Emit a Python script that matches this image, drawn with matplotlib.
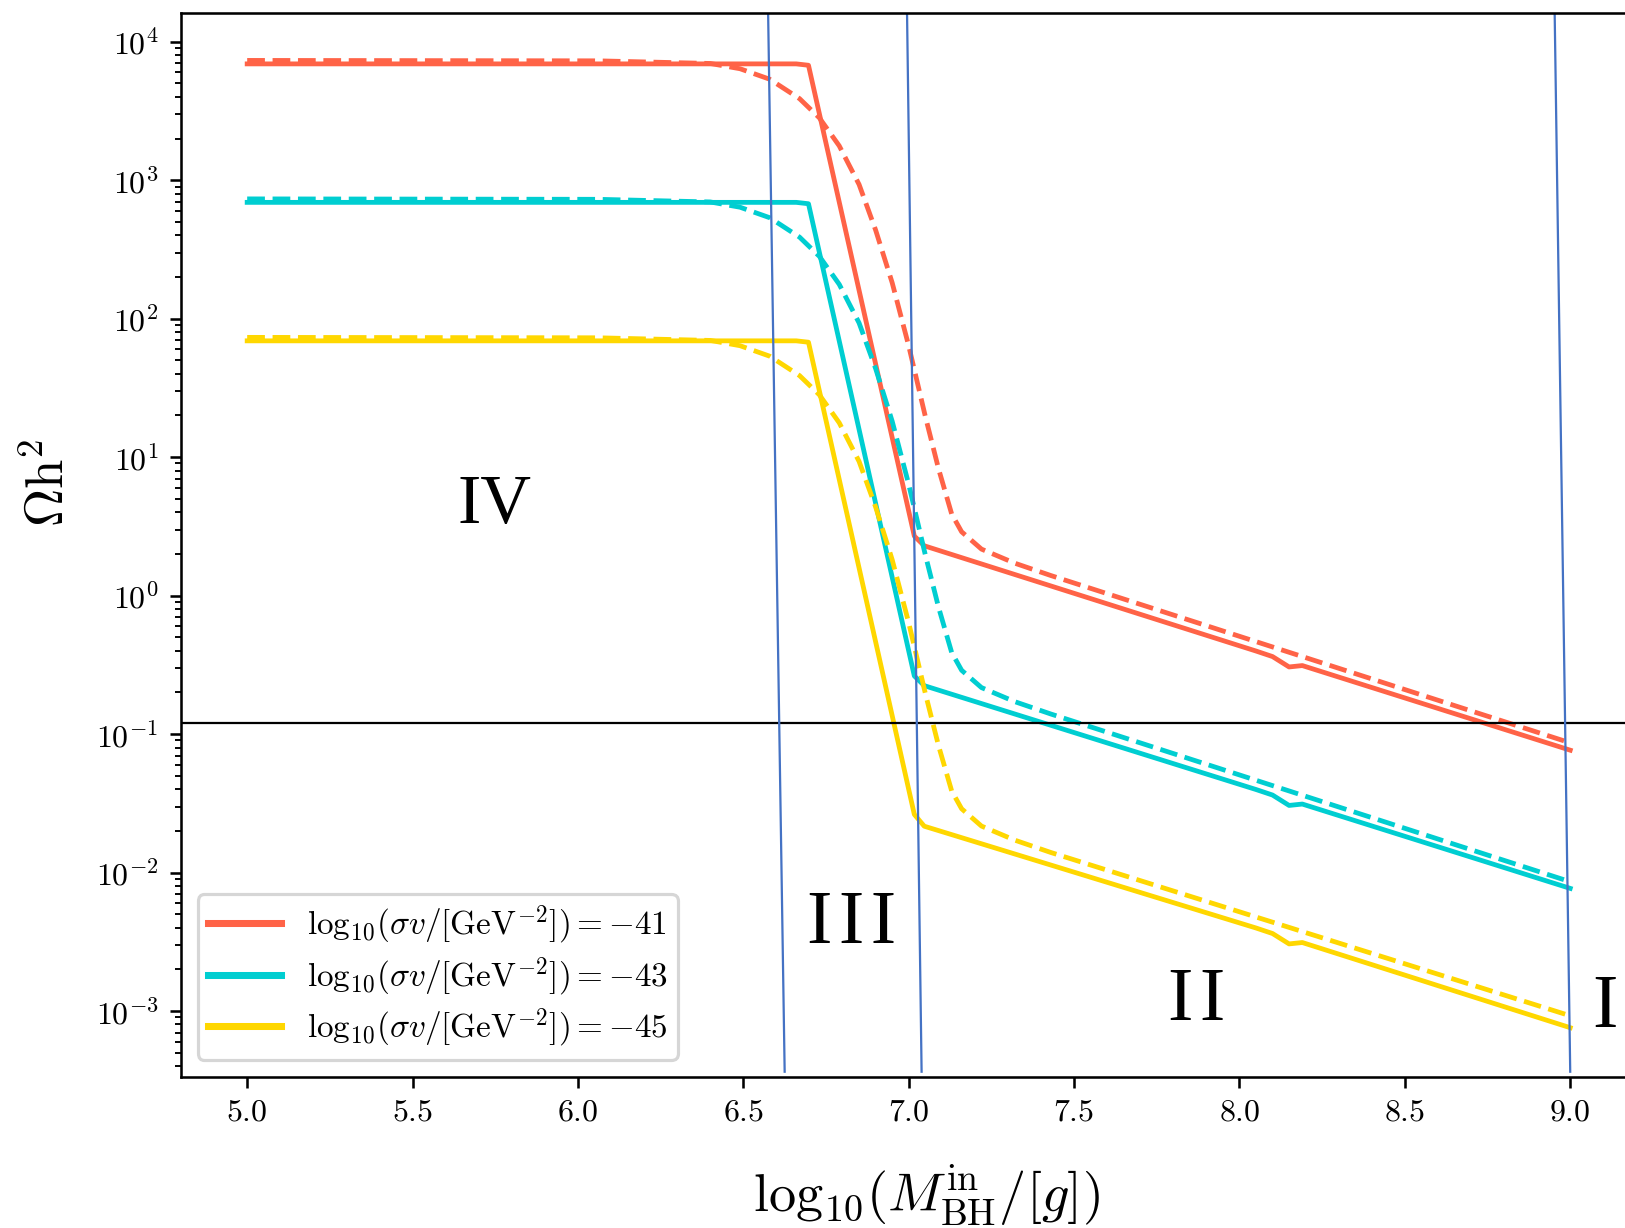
import matplotlib
matplotlib.use('Agg')
import matplotlib.pyplot as plt
import matplotlib.transforms as mtransforms
import numpy as np

plt.rcParams['mathtext.fontset'] = 'cm'
plt.rcParams['font.family'] = 'serif'
plt.rcParams['font.serif'] = ['cmr10']
plt.rcParams['axes.formatter.use_mathtext'] = True

########################### data (log10 of Omega h^2) ####################################

x_solid = [5.0, 6.66, 6.697, 7.017, 7.047, 8.05, 8.10, 8.15, 8.19, 9.0]
red_solid = [3.84, 3.84, 3.83, 0.43, 0.36, -0.40, -0.44, -0.515, -0.505, -1.116]
cyan_solid = [2.84, 2.84, 2.83, -0.58, -0.65, -1.40, -1.44, -1.515, -1.505, -2.114]
yellow_solid = [1.84, 1.84, 1.83, -1.58, -1.665, -2.40, -2.44, -2.515, -2.505, -3.12]

x_dashed = [5.0, 6.06, 6.40, 6.49, 6.58, 6.67, 6.73, 6.79, 6.85, 6.90, 6.95,
            7.00, 7.05, 7.09, 7.13, 7.16, 7.22, 7.32, 7.43, 9.0]
red_dashed = [3.865, 3.862, 3.843, 3.805, 3.729, 3.589, 3.450, 3.248, 2.969, 2.640, 2.260,
              1.804, 1.297, 0.918, 0.589, 0.461, 0.336, 0.235, 0.145, -1.063]
cyan_dashed = [2.865, 2.862, 2.843, 2.805, 2.729, 2.589, 2.450, 2.248, 1.969, 1.640, 1.260,
               0.804, 0.297, -0.082, -0.411, -0.539, -0.664, -0.765, -0.855, -2.066]
yellow_dashed = [1.865, 1.862, 1.843, 1.805, 1.729, 1.589, 1.450, 1.248, 0.969, 0.640, 0.260,
                 -0.196, -0.703, -1.082, -1.411, -1.539, -1.664, -1.765, -1.855, -3.034]

labels = [r'$\mathrm{log}_{10}(\sigma v/[\mathrm{GeV}^{-2}]) = -41$',
          r'$\mathrm{log}_{10}(\sigma v/[\mathrm{GeV}^{-2}]) = -43$',
          r'$\mathrm{log}_{10}(\sigma v/[\mathrm{GeV}^{-2}]) = -45$']
colors = ['tomato', 'darkturquoise', 'gold']

omega_obs = 0.12

# region boundaries (slightly tilted lines): x at top and bottom of the axes
bound_top = [6.575, 6.995, 8.953]
bound_bottom = [6.625, 7.039, 9.0]

region_names = ['IV', 'I\u200aI\u200aI', 'I\u200aI', 'I']
region_x = [5.748, 6.826, 7.872, 9.106]
region_y = [0.523, -2.507, -3.065, -3.113]
region_size = [22, 24, 24, 24]

########################### Plot ####################################

fig = plt.figure(figsize=(1625 / 230, 1228 / 230), dpi=230)
ax = fig.add_axes([0.1114, 0.1232, 0.8956, 0.8665])

solids = [red_solid, cyan_solid, yellow_solid]
dasheds = [red_dashed, cyan_dashed, yellow_dashed]
for s, d, c, lab in zip(solids, dasheds, colors, labels):
    ax.plot(x_solid, 10 ** np.array(s), color=c, linestyle='-', label=lab)
    ax.plot(x_dashed, 10 ** np.array(d), color=c, linestyle='--')

ax.axhline(omega_obs, color='black', lw=0.7)

trans = mtransforms.blended_transform_factory(ax.transData, ax.transAxes)
for xt, xb in zip(bound_top, bound_bottom):
    ax.plot([xt, xb], [0.999, 0.0047], transform=trans, color='#4472C4', lw=0.7)

for name, xr, yr, fs in zip(region_names, region_x, region_y, region_size):
    ax.text(xr, 10 ** yr, name, fontsize=fs, ha='center', va='baseline',
            family=['Liberation Serif', 'DejaVu Serif'])

ax.set_yscale('log')
ax.set_xlim(4.8, 9.2)
ax.set_ylim(10 ** -3.474, 10 ** 4.21)
ax.set_xticks([5.0, 5.5, 6.0, 6.5, 7.0, 7.5, 8.0, 8.5, 9.0])
ax.set_yticks([10.0 ** k for k in range(-3, 5)])

ax.set_xlabel(r'$\mathrm{log}_{10}(M_{\mathrm{BH}}^{\mathrm{in}}/[g])$', fontsize=17)
ax.set_ylabel(r'$\Omega \mathrm{h}^2$', fontsize=16.5)
ax.xaxis.set_label_coords(0.512, -0.0811)
ax.yaxis.set_label_coords(-0.0732, 0.558)

leg = ax.legend(loc='lower left', handlelength=2.2, fontsize=10.4,
                labelspacing=0.25, borderpad=0.3)
for line in leg.get_lines():
    line.set_linewidth(2.2)

plt.savefig('out.png', dpi=230)
